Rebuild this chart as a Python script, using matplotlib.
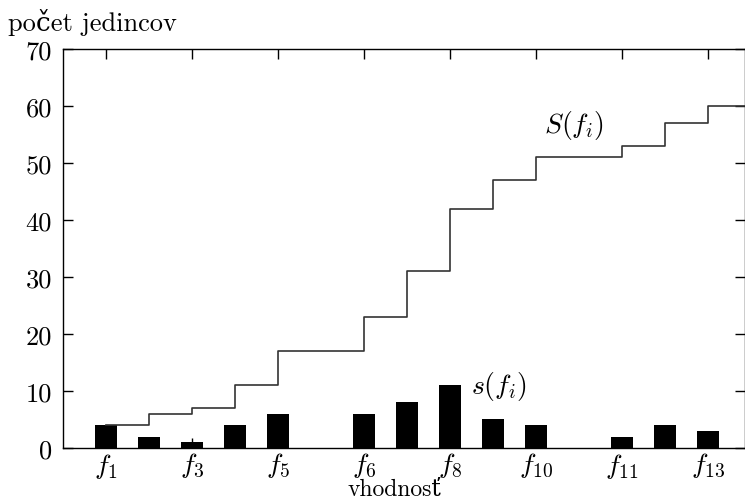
import matplotlib
matplotlib.use("Agg")
import matplotlib.pyplot as plt
import numpy as np

plt.rcParams["font.family"] = ["cmr10", "DejaVu Serif"]
plt.rcParams["mathtext.fontset"] = "cm"
plt.rcParams["axes.formatter.use_mathtext"] = True

# bar positions (gaps between groups) and counts s(f_i)
positions = [0, 1, 2, 3, 4, 6, 7, 8, 9, 10, 12, 13, 14]
counts = [4, 2, 1, 4, 6, 6, 8, 11, 5, 4, 2, 4, 3]
tick_pos = [0, 2, 4, 6, 8, 10, 12, 14]
tick_labels = [r"$f_1$", r"$f_3$", r"$f_5$", r"$f_6$", r"$f_8$",
               r"$f_{10}$", r"$f_{11}$", r"$f_{13}$"]
y_ticks = [0, 10, 20, 30, 40, 50, 60, 70]

fig = plt.figure(figsize=(7.45, 5.02), dpi=100)
ax = fig.add_axes([0.0846, 0.1056, 0.9148, 0.7948])

xmax = 14.85
ax.bar(positions, counts, width=0.53, color="black", zorder=2)

cum = np.cumsum(counts)
xs = list(positions) + [xmax + 1]
ys = list(cum) + [cum[-1]]
ax.step(xs, ys, where="post", color="#333333", linewidth=1.2, zorder=3)

ax.text(10.89, 56.8, r"$S(f_i)$", ha="center", va="center", fontsize=20)
ax.text(9.15, 10.9, r"$s(f_i)$", ha="center", va="center", fontsize=20)

ax.set_xlim(-1, xmax)
ax.set_ylim(0, 70)
ax.set_xticks(tick_pos)
ax.set_xticklabels(tick_labels, fontsize=20)
ax.set_yticks(y_ticks)
ax.set_yticklabels([str(v) for v in y_ticks], fontsize=19)
ax.tick_params(direction="in", length=7, width=1, top=True, right=True,
               pad=8)
ax.tick_params(axis="x", pad=2)
for sp in ax.spines.values():
    sp.set_linewidth(1.0)

fig.text(0.011, 0.955, "počet jedincov", fontsize=19, ha="left", va="center")
fig.text(0.53, 0.002, "vhodnosť", fontsize=17, ha="center", va="bottom")

fig.savefig("out.png", dpi=100, facecolor="white")
